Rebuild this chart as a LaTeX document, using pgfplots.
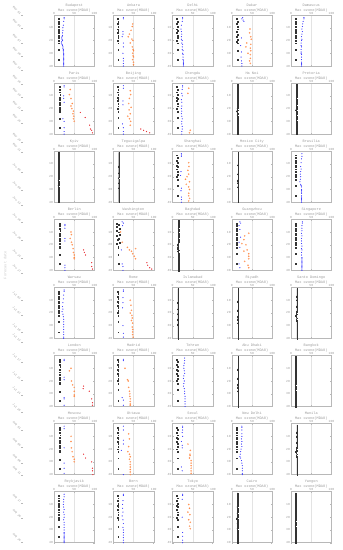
\documentclass[border=0pt]{standalone}
\usepackage{pgfplots}
\pgfplotsset{compat=1.18}
\usepackage{fontspec}
\setmonofont{Liberation Mono}
\definecolor{txt}{HTML}{9A9A9A}
\definecolor{frm}{HTML}{B8B8B8}
\definecolor{cblue}{HTML}{3C3CFF}
\definecolor{corange}{HTML}{FF8A45}
\definecolor{cred}{HTML}{E8343A}
\newcommand\tf{\ttfamily\fontsize{3.6}{4.9}\selectfont}
\newcommand\tkf{\ttfamily\fontsize{3.1}{3.5}\selectfont}
\newcommand\lkf{\ttfamily\fontsize{2.9}{3.2}\selectfont}
\pgfplotsset{
 pnl/.style={scale only axis, width=40.5pt, height=51pt, xmin=0, xmax=100, ymin=0, ymax=40, y dir=reverse,
  xtick={0,50,100}, ytick={10,20,30,40}, xticklabel pos=upper,
  axis line style={draw=frm, line width=0.45pt}, xmajorgrids, grid style={draw=gray!22, line width=0.3pt},
  tick style={draw=frm, line width=0.3pt}, major tick length=1.2pt, tick align=inside,
  ticklabel style={font=\tkf, text=txt}, /pgf/number format/assume math mode=true,
  xticklabel style={inner sep=0.6pt}, yticklabel style={inner sep=0.9pt},
  every axis title/.style={at={(0.5,1)}, anchor=south, yshift=3pt, align=center, font=\tf, text=txt, inner sep=0pt},
  clip=false},
 blk/.style={only marks, mark=square*, mark size=0.45pt, black!80, mark options={line width=0.15pt}},
 blu/.style={only marks, mark=*, mark size=0.42pt, cblue, mark options={line width=0.15pt}},
 org/.style={only marks, mark=o, mark size=0.65pt, corange, mark options={line width=0.3pt}},
 rd/.style={only marks, mark=*, mark size=0.5pt, cred, mark options={line width=0.15pt}},
 lin/.style={black!80, line width=0.35pt, mark=square*, mark size=0.3pt, mark options={line width=0.15pt}},
}
% black squares (three shapes seen in the panels)
\def\bkA{(11,3)(12,5)(11,7)(12,9)(11,11)(12,12)(11,14)(12,16)(12,18)(11,20)(12,22)(12,27)(12,35)}
\def\bkB{(13,3)(14,5)(13,7)(15,9)(14,11)(13,13)(14,15)(13,17)(14,19)(13,21)(14,22)(14,28)(14,35)}
\def\bkC{(8,3)(14,4)(9,6)(15,7)(8,9)(13,10)(16,12)(9,13)(14,15)(10,16)(15,18)(9,19)(12,21)(12,22)(12,28)(13,35)}
% near-constant series
\def\lnA{(15,1)(15,2)(15,3)(15,4)(15,5)(15,6)(14,7)(15,8)(15,9)(14,10)(15,11)(15,12)(15,13)(15,14)(14,15)(15,16)(15,17)(15,18)(14,19)(13,20)(14,21)(12,22)(13,23)(15,24)(13,25)(14,26)(15,27)(15,28)(15,29)(15,30)(15,31)(15,32)(15,33)(15,34)(15,35)(15,36)(15,37)(15,38)(15,39)(15,40)}
\def\lnB{(12,1)(12,2)(12,3)(12,4)(12,5)(12,6)(11,7)(12,8)(12,9)(12,10)(12,11)(12,12)(12,13)(11,14)(12,15)(12,16)(12,17)(11,18)(12,19)(12,20)(11,21)(12,22)(10,23)(12,24)(12,25)(11,26)(10,27)(12,28)(12,29)(12,30)(12,31)(12,32)(12,33)(12,34)(12,35)(12,36)(12,37)(12,38)(12,39)(12,40)}
\def\lnC{(14,1)(14,2)(14,3)(14,4)(14,5)(14,6)(14,7)(14,8)(14,9)(14,10)(14,11)(13,12)(14,13)(14,14)(14,15)(14,16)(13,17)(14,18)(14,19)(14,20)(12,21)(14,22)(14,23)(14,24)(13,25)(14,26)(14,27)(14,28)(13,29)(14,30)(14,31)(14,32)(14,33)(14,34)(14,35)(14,36)(14,37)(14,38)(14,39)(14,40)}
\def\lnD{(16,1)(16,2)(16,3)(16,4)(16,5)(16,6)(16,7)(16,8)(16,9)(16,10)(15,11)(16,12)(16,13)(16,14)(16,15)(16,16)(16,17)(15,18)(16,19)(16,20)(16,21)(16,22)(15,23)(16,24)(14,25)(16,26)(16,27)(15,28)(16,29)(16,30)(16,31)(16,32)(16,33)(16,34)(16,35)(16,36)(16,37)(16,38)(16,39)(16,40)}

\newcommand\panel[7]{%
 \pgfmathsetmacro\px{54+59.25*(#1-1)}%
 \pgfmathsetmacro\py{15+68.1*(#2-1)}%
 \begin{axis}[pnl, at={(\px pt,-\py pt)}, anchor=north west, title={#3\\Max ozone(MDA8)}]
 \edef\tmp{\noexpand\addplot[blk] coordinates {#4};}\tmp
 \addplot[blu] coordinates {#5};
 \if\relax\detokenize{#6}\relax\else\addplot[org] coordinates {#6};\fi
 \if\relax\detokenize{#7}\relax\else\addplot[rd] coordinates {#7};\fi
 \end{axis}}
\newcommand\lpanel[4]{%
 \pgfmathsetmacro\px{54+59.25*(#1-1)}%
 \pgfmathsetmacro\py{15+68.1*(#2-1)}%
 \begin{axis}[pnl, at={(\px pt,-\py pt)}, anchor=north west, title={#3\\Max ozone(MDA8)}]
 \edef\tmp{\noexpand\addplot[lin] coordinates {#4};}\tmp
 \end{axis}}

\begin{document}
\begin{tikzpicture}
\path[use as bounding box] (0pt,0pt) rectangle (343pt,-550pt);
\begin{axis}[at={(21pt,0pt)}, anchor=north west, scale only axis, width=1pt, height=550pt,
 xmin=0, xmax=1, ymin=0, ymax=550, y dir=reverse, axis x line=none, axis y line*=left,
 y axis line style={draw=none}, tick align=inside, major tick length=2.5pt,
 tick style={draw=gray!55, line width=0.3pt},
 ytick={15,28,43,56,70,84,97,110,123,142,152,172,190,205,222,240,258,273,300,315,332,342,362,380,395,412,430,447,463,475,503,518,542},
 yticklabels={May 01,May 04,May 07,May 10,May 13,May 16,May 19,May 22,May 25,May 29,May 31,Jun 05,Jun 09,Jun 12,Jun 16,Jun 20,Jun 24,Jun 27,Jul 03,Jul 07,Jul 10,Jul 13,Jul 17,Jul 21,Jul 24,Jul 28,Aug 01,Aug 05,Aug 08,Aug 11,Aug 17,Aug 20,Aug 26},
 yticklabel style={font=\lkf, text=txt, rotate=-45, anchor=east, inner sep=0.6pt}]
\end{axis}
\node[rotate=90, font=\tf, text=gray!45] at (5pt,-265pt) {Forecast date};

% row 1
\panel{1}{1}{Budapest}{\bkA}{(25,2)(25,3)(24,5)(23,8)(22,10)(22,12)(21,14)(21,16)(20,17)(19,18)(20,19)(21,20)(19,21)(18,22)(20,23)(21,24)(22,25)(22,26)(23,27)(23,28)(23,29)(24,30)(24,31)(24,32)(24,33)(24,34)(24,35)(24,36)(24,37)(24,38)(24,39)(24,40)}{}{}
\panel{2}{1}{Ankara}{\bkA}{(25,2)(25,3)(24,13)(24,15)(22,17)(25,22)(25,25)(24,30)(25,34)(25,36)(25,38)(25,40)}{(48,7)(47,9)(44,12)(40,15)(37,17)(46,19)(49,20)(42,22)(47,25)(49,27)(50,28)(48,30)(49,32)(50,33)(48,35)(50,37)(50,39)}{}
\panel{3}{1}{Delhi}{\bkA}{(25,2)(25,3)(24,5)(22,8)(21,11)(22,13)(23,15)(22,17)(22,19)(24,20)(23,22)(25,23)(24,25)(24,27)(26,28)(25,30)(26,31)(26,33)(26,35)(27,36)(27,37)(27,38)(27,39)(27,40)}{}{}
\panel{4}{1}{Dakar}{\bkB}{(27,2)(25,3)(28,4)(30,5)(24,18)(22,24)(24,29)(23,33)(24,36)(25,38)(25,40)}{(45,11)(44,14)(47,17)(48,19)(37,22)(47,23)(35,25)(46,26)(47,28)(40,30)(46,31)(46,34)(44,36)(46,38)}{}
\panel{5}{1}{Damascus}{\bkA}{(32,2)(32,3)(30,5)(29,7)(28,9)(27,11)(28,13)(27,15)(26,17)(27,19)(26,20)(25,22)(25,24)(26,25)(25,27)(25,29)(25,30)(26,31)(26,33)(26,35)(26,37)(26,38)(26,39)(26,40)}{}{}
% row 2
\panel{1}{2}{Paris}{\bkB}{(25,2)(25,3)(24,10)(24,12)(25,15)(22,28)(25,30)(25,35)(25,38)(25,40)}{(40,5)(38,9)(42,12)(45,16)(42,18)(44,20)(48,22)(47,24)(49,26)(48,28)(50,30)}{(65,23)(77,27)(88,33)(90,36)(93,37)(95,39)}
\panel{2}{2}{Beijing}{\bkA}{(25,2)(25,4)(24,14)(24,17)(23,32)(25,35)(25,38)(25,40)}{(42,6)(43,9)(40,12)(38,16)(44,19)(39,21)(42,24)(36,26)(40,28)(43,30)(42,33)}{(68,36)(75,37)(82,38)(90,39)}
\panel{3}{2}{Chengdu}{\bkA}{(25,2)(25,3)(24,5)(23,8)(24,10)(22,13)(23,15)(23,18)(22,20)(23,22)(22,24)(23,26)(24,28)(23,30)(23,32)(24,34)(24,36)(23,38)(23,40)}{(40,4)(38,8)(44,37)(42,39)}{}
\lpanel{4}{2}{Ha Noi}{\lnA}
\lpanel{5}{2}{Pretoria}{\lnC}
% row 3
\lpanel{1}{3}{Kyiv}{\lnB}
\lpanel{2}{3}{Tegucigalpa}{\lnC}
\panel{3}{3}{Shanghai}{\bkA}{(22,2)(22,3)(22,4)(21,16)(20,19)(22,29)(21,31)(22,36)(22,38)(22,40)}{(40,9)(41,12)(38,15)(40,18)(36,20)(32,22)(42,24)(34,26)(40,28)(42,30)(40,33)(40,35)(42,37)(40,39)}{}
\lpanel{4}{3}{Mexico City}{\lnD}
\panel{5}{3}{Brasilia}{\bkA}{(27,2)(27,4)(26,6)(25,9)(24,12)(25,14)(24,16)(23,18)(24,20)(23,22)(22,24)(24,26)(25,27)(26,28)(26,30)(26,31)(26,32)(26,33)(26,35)(26,36)(26,37)(26,38)(26,39)(26,40)}{}{}
% row 4
\panel{1}{4}{Berlin}{\bkB}{(27,4)(27,5)(27,7)(27,15)(27,17)(27,36)(27,38)(27,40)}{(42,10)(43,12)(40,15)(43,18)(45,20)(47,23)(48,26)(50,28)(50,30)(50,31)}{(73,24)(75,26)(78,28)(93,34)(93,37)(95,39)}
\panel{2}{4}{Washington}{\bkC}{(22,2)(25,3)(23,5)(20,24)(22,35)(24,37)(24,40)}{(18,10)(22,18)(35,22)(40,24)(45,25)(55,23)(48,27)(52,29)(55,31)}{(83,34)(85,36)(90,38)(95,39)}
\lpanel{3}{4}{Baghdad}{\lnA}
\panel{4}{4}{Guangzhou}{\bkA}{(20,2)(22,3)(18,5)(20,8)(22,14)(18,18)(20,22)(18,35)(20,38)}{(42,11)(32,13)(30,16)(25,19)(35,20)(38,24)(30,25)(42,27)(42,29)(42,31)(32,33)(40,36)(42,38)}{}
\panel{5}{4}{Singapore}{\bkA}{(28,2)(28,3)(27,5)(27,7)(27,9)(26,11)(27,13)(26,15)(26,17)(26,19)(27,21)(26,23)(27,24)(26,26)(26,28)(27,30)(27,31)(27,32)(27,33)(27,34)(27,35)(27,36)(27,37)(27,38)(27,39)(27,40)}{}{}
% row 5
\panel{1}{5}{Warsaw}{\bkA}{(25,2)(25,3)(24,6)(23,9)(22,12)(21,15)(22,17)(20,19)(22,21)(23,23)(24,25)(24,27)(24,29)(24,31)(24,33)(24,35)(24,37)(24,39)(24,40)}{}{}
\panel{2}{5}{Rome}{\bkA}{(25,2)(25,3)(24,8)(24,12)(23,16)(24,30)(25,36)(25,39)}{(42,10)(44,14)(45,18)(42,20)(46,22)(47,24)(45,26)(48,28)(47,31)(48,33)(48,35)(48,37)(49,39)}{}
\lpanel{3}{5}{Islamabad}{\lnC}
\lpanel{4}{5}{Riyadh}{\lnD}
\lpanel{5}{5}{Santo Domingo}{\lnA}
% row 6
\panel{1}{6}{London}{\bkB}{(25,3)(25,4)(25,17)(25,19)(25,33)(25,34)(25,39)}{(42,10)(38,12)(43,20)(46,23)(50,25)(50,28)(50,31)(50,32)}{(73,24)(72,26)(87,28)(93,34)(95,37)(95,39)}
\panel{2}{6}{Madrid}{\bkA}{(25,3)(25,4)(22,33)(25,35)(25,39)}{(29,10)(35,19)(37,20)(38,25)(40,28)(41,30)(41,32)(42,34)(42,36)(42,38)(42,39)}{}
\panel{3}{6}{Tehran}{\bkA}{(30,2)(30,4)(29,6)(28,8)(28,10)(29,12)(30,14)(28,16)(27,18)(29,20)(28,22)(27,24)(29,26)(30,28)(30,30)(31,32)(31,34)(31,36)(31,38)(31,40)}{}{}
\lpanel{4}{6}{Abu Dhabi}{\lnD}
\lpanel{5}{6}{Bangkok}{\lnB}
% row 7
\panel{1}{7}{Moscow}{\bkB}{(25,2)(25,4)(25,19)(25,31)(25,35)(25,39)}{(42,10)(42,14)(43,19)(45,22)(47,26)(50,28)(50,30)}{(73,24)(78,27)(93,30)(95,35)(95,37)(96,40)}
\panel{2}{7}{Ottawa}{\bkA}{(25,2)(25,5)(25,13)(25,16)(20,21)(25,40)}{(38,8)(40,12)(38,18)(36,22)(40,24)(42,26)(40,28)(42,30)(42,32)(42,34)(42,36)(42,38)(42,40)}{}
\panel{3}{7}{Seoul}{\bkA}{(25,2)(25,3)(25,5)(24,7)(25,10)(22,14)(24,17)(24,19)(22,34)(24,37)}{(38,16)(44,21)(43,24)(43,25)(42,27)(46,29)(46,31)(46,33)(46,35)(46,37)(46,39)}{}
\panel{4}{7}{New Delhi}{\bkA}{(25,2)(25,3)(25,5)(25,8)(25,10)(24,12)(25,14)(24,16)(25,18)(23,20)(22,22)(21,24)(20,26)(22,27)(24,29)(25,31)(26,33)(26,35)(26,37)(26,39)(26,40)}{}{}
\lpanel{5}{7}{Manila}{\lnA}
% row 8
\panel{1}{8}{Reykjavik}{\bkA}{(25,2)(25,4)(24,6)(24,8)(23,10)(24,12)(25,14)(24,16)(25,18)(25,20)(24,22)(25,24)(25,26)(25,28)(25,30)(25,32)(25,33)(25,34)(25,35)(25,36)(25,37)(25,38)(25,39)(25,40)}{}{}
\panel{2}{8}{Bern}{\bkA}{(25,2)(25,3)(24,7)(23,10)(23,13)(24,16)(22,19)(24,22)(25,25)(24,28)(25,30)(25,32)(25,34)(25,36)(25,38)(25,40)}{}{}
\panel{3}{8}{Tokyo}{\bkA}{(25,2)(25,3)(24,6)(24,20)(25,32)(25,35)(25,38)(25,40)}{(40,10)(42,13)(38,16)(43,18)(40,22)(44,24)(42,27)(44,29)}{}
\lpanel{4}{8}{Cairo}{\lnC}
\lpanel{5}{8}{Yangon}{\lnB}
\end{tikzpicture}
\end{document}
